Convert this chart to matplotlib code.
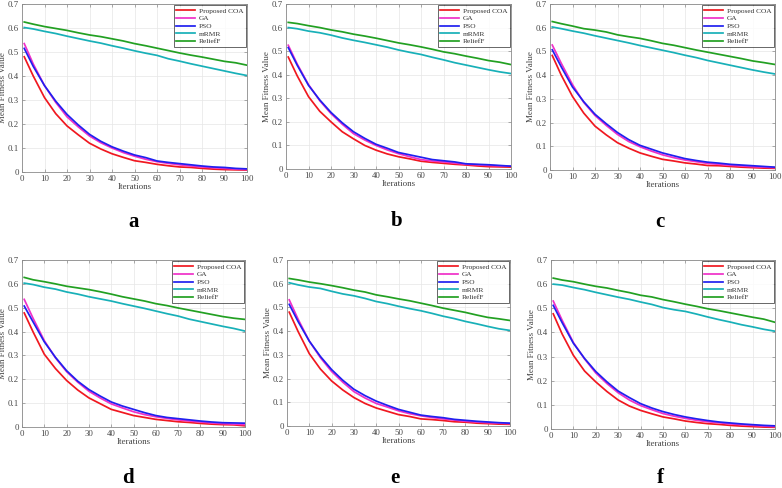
import matplotlib
matplotlib.use("Agg")
import matplotlib.pyplot as plt

plt.rcParams['font.family'] = ['Liberation Serif', 'DejaVu Serif']

iters = [1, 5, 10, 15, 20, 25, 30, 35, 40, 45, 50, 55, 60, 65, 70, 75, 80, 85, 90, 95, 100]
series_names = ["Proposed COA", "GA", "PSO", "mRMR", "ReliefF"]
panel_labels = ["a", "b", "c", "d", "e", "f"]
yticks = [0, 0.1, 0.2, 0.3, 0.4, 0.5, 0.6, 0.7]
ytick_labels = ["0", "0.1", "0.2", "0.3", "0.4", "0.5", "0.6", "0.7"]
xticks = [0, 10, 20, 30, 40, 50, 60, 70, 80, 90, 100]

# Panel a
coa_a = [0.480, 0.400, 0.310, 0.243, 0.192, 0.155, 0.120, 0.096, 0.076, 0.061, 0.047, 0.040, 0.032, 0.026, 0.021, 0.019, 0.015, 0.012, 0.010, 0.009, 0.008]
ga_a = [0.535, 0.450, 0.360, 0.290, 0.230, 0.188, 0.150, 0.122, 0.100, 0.081, 0.066, 0.053, 0.043, 0.036, 0.030, 0.025, 0.021, 0.018, 0.015, 0.012, 0.010]
pso_a = [0.515, 0.440, 0.360, 0.295, 0.240, 0.196, 0.157, 0.128, 0.105, 0.087, 0.071, 0.060, 0.046, 0.040, 0.035, 0.030, 0.025, 0.021, 0.019, 0.015, 0.013]
mrmr_a = [0.602, 0.596, 0.586, 0.577, 0.566, 0.556, 0.546, 0.537, 0.526, 0.516, 0.505, 0.495, 0.486, 0.472, 0.462, 0.451, 0.441, 0.431, 0.421, 0.411, 0.402]
relieff_a = [0.625, 0.616, 0.606, 0.598, 0.590, 0.580, 0.571, 0.564, 0.555, 0.546, 0.535, 0.526, 0.516, 0.506, 0.496, 0.487, 0.479, 0.470, 0.461, 0.455, 0.445]

# Panel b
coa_b = [0.475, 0.395, 0.307, 0.245, 0.200, 0.158, 0.128, 0.100, 0.080, 0.064, 0.052, 0.043, 0.033, 0.028, 0.024, 0.020, 0.017, 0.013, 0.010, 0.009, 0.008]
ga_b = [0.525, 0.445, 0.358, 0.290, 0.235, 0.190, 0.150, 0.123, 0.100, 0.081, 0.065, 0.052, 0.040, 0.034, 0.030, 0.025, 0.020, 0.018, 0.015, 0.013, 0.012]
pso_b = [0.515, 0.440, 0.355, 0.293, 0.240, 0.196, 0.158, 0.130, 0.105, 0.088, 0.070, 0.060, 0.050, 0.040, 0.035, 0.030, 0.022, 0.020, 0.018, 0.015, 0.012]
mrmr_b = [0.600, 0.595, 0.585, 0.578, 0.568, 0.556, 0.546, 0.537, 0.527, 0.517, 0.505, 0.495, 0.486, 0.474, 0.463, 0.451, 0.441, 0.431, 0.421, 0.412, 0.405]
relieff_b = [0.622, 0.617, 0.608, 0.600, 0.590, 0.582, 0.572, 0.564, 0.555, 0.545, 0.535, 0.527, 0.518, 0.508, 0.497, 0.489, 0.479, 0.470, 0.460, 0.453, 0.443]

# Panel c
coa_c = [0.483, 0.400, 0.310, 0.240, 0.185, 0.148, 0.115, 0.092, 0.072, 0.058, 0.045, 0.038, 0.030, 0.025, 0.019, 0.018, 0.015, 0.012, 0.010, 0.008, 0.007]
ga_c = [0.527, 0.450, 0.360, 0.285, 0.230, 0.188, 0.150, 0.120, 0.098, 0.080, 0.064, 0.052, 0.042, 0.035, 0.028, 0.024, 0.020, 0.017, 0.014, 0.012, 0.010]
pso_c = [0.507, 0.435, 0.350, 0.288, 0.235, 0.195, 0.158, 0.128, 0.104, 0.088, 0.072, 0.060, 0.048, 0.040, 0.033, 0.029, 0.024, 0.021, 0.018, 0.015, 0.012]
mrmr_c = [0.603, 0.596, 0.586, 0.577, 0.566, 0.556, 0.546, 0.536, 0.525, 0.515, 0.505, 0.495, 0.484, 0.474, 0.462, 0.452, 0.442, 0.432, 0.422, 0.413, 0.405]
relieff_c = [0.626, 0.617, 0.607, 0.596, 0.590, 0.582, 0.570, 0.562, 0.555, 0.545, 0.534, 0.526, 0.516, 0.506, 0.497, 0.488, 0.479, 0.470, 0.460, 0.453, 0.445]

# Panel d
coa_d = [0.478, 0.398, 0.305, 0.245, 0.195, 0.155, 0.122, 0.098, 0.074, 0.061, 0.048, 0.040, 0.032, 0.027, 0.022, 0.019, 0.015, 0.012, 0.010, 0.009, 0.005]
ga_d = [0.535, 0.455, 0.362, 0.290, 0.232, 0.188, 0.150, 0.122, 0.097, 0.080, 0.064, 0.052, 0.043, 0.036, 0.030, 0.025, 0.021, 0.017, 0.014, 0.012, 0.010]
pso_d = [0.507, 0.440, 0.357, 0.292, 0.236, 0.192, 0.157, 0.130, 0.105, 0.088, 0.074, 0.060, 0.048, 0.040, 0.035, 0.030, 0.025, 0.021, 0.018, 0.017, 0.016]
mrmr_d = [0.603, 0.597, 0.586, 0.578, 0.566, 0.557, 0.546, 0.537, 0.528, 0.517, 0.507, 0.497, 0.486, 0.475, 0.465, 0.452, 0.442, 0.432, 0.422, 0.413, 0.402]
relieff_d = [0.627, 0.617, 0.609, 0.600, 0.590, 0.583, 0.576, 0.567, 0.557, 0.546, 0.537, 0.528, 0.517, 0.509, 0.499, 0.490, 0.481, 0.472, 0.463, 0.456, 0.451]

# Panel e
coa_e = [0.480, 0.398, 0.305, 0.240, 0.190, 0.152, 0.120, 0.095, 0.076, 0.062, 0.048, 0.040, 0.030, 0.027, 0.023, 0.018, 0.016, 0.012, 0.010, 0.008, 0.007]
ga_e = [0.532, 0.450, 0.358, 0.288, 0.230, 0.185, 0.145, 0.118, 0.095, 0.080, 0.064, 0.052, 0.043, 0.036, 0.030, 0.025, 0.020, 0.017, 0.014, 0.012, 0.010]
pso_e = [0.513, 0.440, 0.358, 0.293, 0.238, 0.193, 0.155, 0.128, 0.105, 0.087, 0.070, 0.058, 0.046, 0.040, 0.035, 0.028, 0.024, 0.020, 0.017, 0.014, 0.012]
mrmr_e = [0.604, 0.595, 0.586, 0.580, 0.568, 0.557, 0.549, 0.538, 0.525, 0.516, 0.505, 0.495, 0.486, 0.475, 0.463, 0.453, 0.441, 0.431, 0.420, 0.410, 0.403]
relieff_e = [0.622, 0.616, 0.607, 0.600, 0.592, 0.583, 0.573, 0.565, 0.553, 0.545, 0.536, 0.528, 0.518, 0.508, 0.497, 0.488, 0.479, 0.468, 0.458, 0.452, 0.445]

# Panel f
coa_f = [0.477, 0.393, 0.305, 0.240, 0.195, 0.155, 0.120, 0.095, 0.077, 0.063, 0.050, 0.042, 0.033, 0.027, 0.022, 0.019, 0.015, 0.012, 0.010, 0.008, 0.007]
ga_f = [0.530, 0.450, 0.358, 0.290, 0.232, 0.188, 0.150, 0.120, 0.097, 0.080, 0.064, 0.053, 0.044, 0.036, 0.030, 0.026, 0.021, 0.018, 0.015, 0.012, 0.010]
pso_f = [0.512, 0.440, 0.355, 0.292, 0.238, 0.195, 0.157, 0.130, 0.105, 0.087, 0.072, 0.060, 0.050, 0.042, 0.035, 0.029, 0.025, 0.021, 0.018, 0.015, 0.013]
mrmr_f = [0.600, 0.596, 0.586, 0.577, 0.566, 0.556, 0.546, 0.537, 0.526, 0.516, 0.503, 0.494, 0.487, 0.476, 0.464, 0.453, 0.443, 0.432, 0.423, 0.413, 0.405]
relieff_f = [0.625, 0.617, 0.610, 0.600, 0.591, 0.584, 0.574, 0.565, 0.554, 0.547, 0.536, 0.527, 0.517, 0.508, 0.498, 0.490, 0.481, 0.472, 0.463, 0.455, 0.442]

panels = [
    [coa_a, ga_a, pso_a, mrmr_a, relieff_a],
    [coa_b, ga_b, pso_b, mrmr_b, relieff_b],
    [coa_c, ga_c, pso_c, mrmr_c, relieff_c],
    [coa_d, ga_d, pso_d, mrmr_d, relieff_d],
    [coa_e, ga_e, pso_e, mrmr_e, relieff_e],
    [coa_f, ga_f, pso_f, mrmr_f, relieff_f],
]

colors = ["#f01820", "#f030c8", "#2020f0", "#18b0b8", "#22a022"]

W, H = 782, 488
# axes boxes in pixels: left, right, top, bottom
boxes = [
    (22, 247, 4, 172),
    (286, 511, 4, 169),
    (550, 775, 4, 170),
    (22, 245, 260, 427),
    (287, 510, 260, 426),
    (551, 775, 260, 429),
]
letter_pos = [(134, 222), (397, 221), (660, 222), (128, 478), (395, 478), (660, 478)]

fig = plt.figure(figsize=(W / 100, H / 100), dpi=100)
fig.patch.set_facecolor("white")

for p, (l, r, t, b) in enumerate(boxes):
    ax = fig.add_axes([l / W, 1 - b / H, (r - l) / W, (b - t) / H])
    for s, vals in enumerate(panels[p]):
        ax.plot(iters, vals, color=colors[s], lw=1.25, label=series_names[s])
    ax.set_xlim(0, 100)
    ax.set_ylim(0, 0.7)
    ax.set_xticks(xticks)
    ax.set_yticks(yticks)
    ax.set_yticklabels(ytick_labels)
    ax.grid(True, color="#e6e6e6", lw=0.5)
    ax.set_axisbelow(True)
    for sp in ax.spines.values():
        sp.set_color("#8a8a8a")
        sp.set_linewidth(0.6)
    ax.tick_params(direction="in", length=2, width=0.5, colors="#8a8a8a",
                   labelsize=6.3, labelcolor="#444444", pad=2, top=True, right=True)
    ax.set_xlabel("Iterations", fontsize=6.5, color="#444444", labelpad=0.5)
    ax.set_ylabel("Mean Fitness Value", fontsize=6.5, color="#444444", labelpad=1)
    leg = ax.legend(loc="upper right", fontsize=5.3, frameon=True, fancybox=False,
                    handlelength=2.6, handletextpad=0.5, borderpad=0.3,
                    labelspacing=0.2, borderaxespad=0.2)
    leg.get_frame().set_edgecolor("#222222")
    leg.get_frame().set_linewidth(0.6)
    for txt in leg.get_texts():
        txt.set_color("#333333")

for lab, (x, y) in zip(panel_labels, letter_pos):
    fig.text(x / W, 1 - y / H, lab, fontsize=15, fontweight="bold",
             ha="center", va="center")

fig.savefig("out.png", dpi=100)
